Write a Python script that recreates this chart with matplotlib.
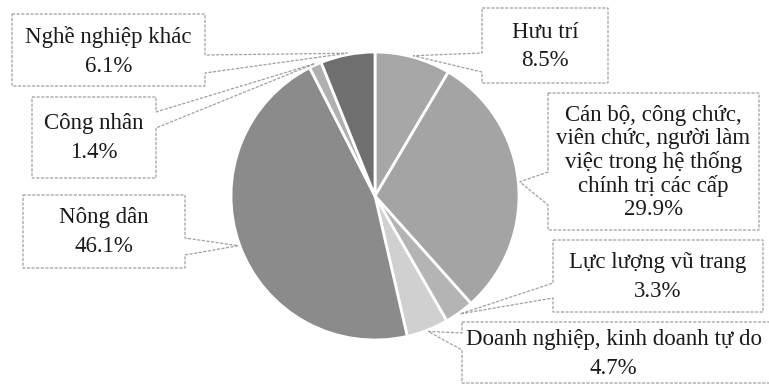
import numpy as np
import matplotlib
matplotlib.use("Agg")
import matplotlib.pyplot as plt
from matplotlib.patches import Polygon

# share of each group, clockwise from 12 o'clock
groups = ["Hưu trí",
          "Cán bộ, công chức,\nviên chức, người làm\nviệc trong hệ thống\nchính trị các cấp",
          "Lực lượng vũ trang",
          "Doanh nghiệp, kinh doanh tự do",
          "Nông dân",
          "Công nhân",
          "Nghề nghiệp khác"]
shares = [8.5, 29.9, 3.3, 4.7, 46.1, 1.4, 6.1]
greys = ["#a7a7a7", "#a4a4a4", "#b4b4b4", "#d0d0d0", "#8b8b8b", "#b0b0b0", "#6f6f6f"]

# callout boxes in pixel coords: x0, y0, x1, y1, side of pointer, pointer y range
boxes = [
    (482, 8, 608, 83, "left", 53, 72),
    (548, 93, 759, 230, "left", 172, 205),
    (553, 240, 763, 312, "left", 283, 298),
    (462, 322, 775, 383, "left", 333, 350),
    (23, 195, 185, 268, "right", 238, 255),
    (32, 97, 156, 178, "right", 112, 128),
    (12, 14, 205, 86, "right", 55, 73),
]

W, H = 769, 387
fig = plt.figure(figsize=(W / 100, H / 100), dpi=100)
ax = fig.add_axes([0, 0, 1, 1])

cx, cy, R = 375, 196, 144
wedges, _ = ax.pie(shares, colors=greys, startangle=-90, counterclock=True,
                   center=(cx, cy), radius=R,
                   wedgeprops=dict(edgecolor="white", linewidth=2))

ax.set_xlim(0, W)
ax.set_ylim(H, 0)
ax.set_aspect("equal")
ax.axis("off")

for w, name, val, (x0, y0, x1, y1, side, ya, yb) in zip(wedges, groups, shares, boxes):
    mid = np.deg2rad((w.theta1 + w.theta2) / 2)
    px, py = cx + 1.01 * R * np.cos(mid), cy + 1.01 * R * np.sin(mid)
    if side == "left":
        pts = [(x0, y0), (x1, y0), (x1, y1), (x0, y1), (x0, yb), (px, py), (x0, ya)]
    else:
        pts = [(x0, y0), (x1, y0), (x1, ya), (px, py), (x1, yb), (x1, y1), (x0, y1)]
    ax.add_patch(Polygon(pts, closed=True, facecolor="none", edgecolor="#a0a0a0",
                         linewidth=0.9, linestyle=(0, (2.5, 1.2)), zorder=3))
    tx = (x0 + min(x1, W - 4)) / 2
    ls = 1.12 if "\n" in name else 1.5
    ax.text(tx, (y0 + y1) / 2 + 1, f"{name}\n{val:.1f}%", ha="center", va="center",
            multialignment="center", fontsize=16.5, family="Liberation Serif",
            linespacing=ls, color="#1a1a1a", zorder=4)

fig.savefig("out.png", dpi=100, facecolor="white")
